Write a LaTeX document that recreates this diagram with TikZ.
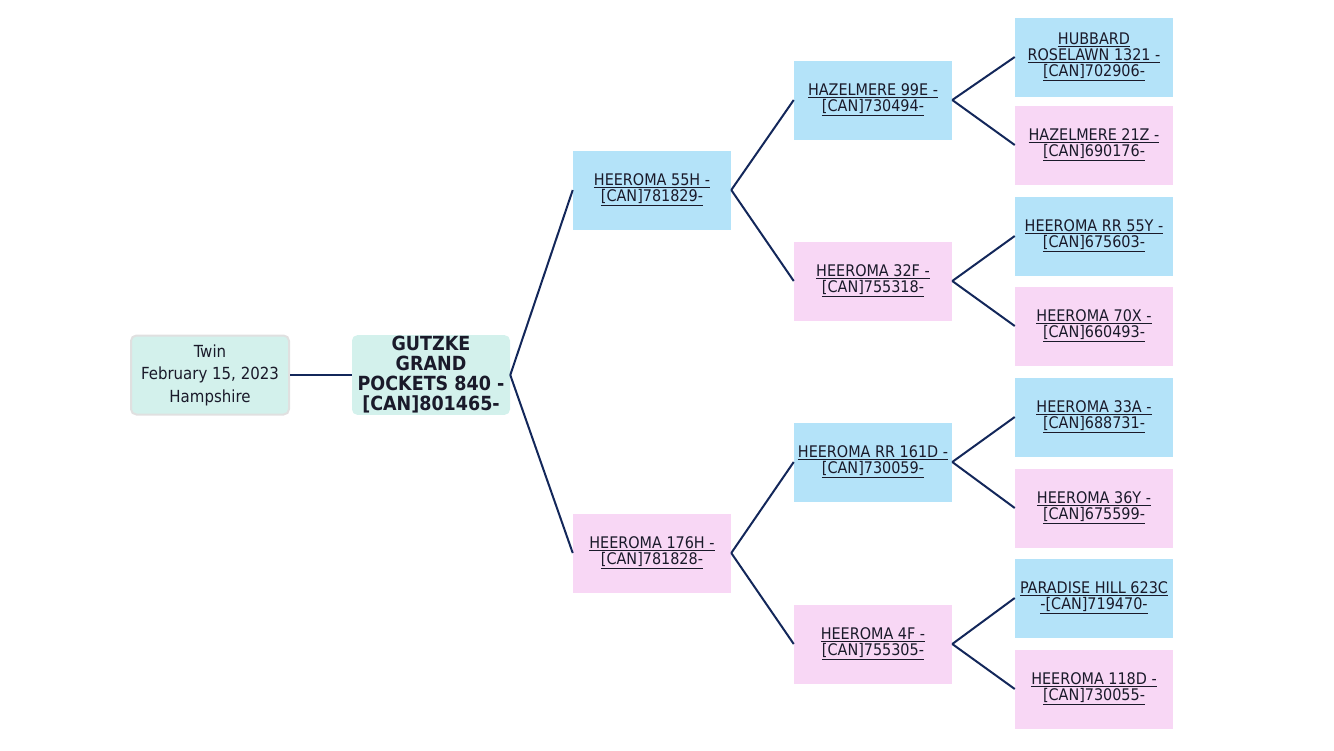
\documentclass[tikz,border=0pt]{standalone}
\usepackage{fontspec}
\setmainfont{DejaVu Sans Condensed}
\usetikzlibrary{positioning}

\definecolor{sireblue}{HTML}{B4E3F9}
\definecolor{dampink}{HTML}{F8D7F5}
\definecolor{rootteal}{HTML}{D3F1EC}
\definecolor{linknavy}{HTML}{13275A}
\definecolor{textdark}{HTML}{1A1A2A}

\newcommand{\lnk}[1]{\underline{#1}}

\tikzset{
  animal/.style={minimum width=118.5pt, minimum height=59.25pt, inner sep=1pt,
    align=center, text=textdark, font=\fontsize{12}{12}\selectfont},
  sire/.style={animal, fill=sireblue},
  dam/.style={animal, fill=dampink},
  rootbox/.style={animal, fill=rootteal, rounded corners=4pt},
  link/.style={draw=linknavy, line width=1.5pt}
}

\begin{document}
\begin{tikzpicture}[x=0.75pt, y=-0.75pt]
\useasboundingbox (0,0) rectangle (1334,750);

% nodes
\node[rootbox, draw=black!12, line width=1.5pt, font=\fontsize{12.5}{16.9}\selectfont] (info) at (210,375) {Twin\\February 15, 2023\\Hampshire};
\node[rootbox, font=\bfseries\fontsize{14.6}{15}\selectfont] (main) at (431,375) {GUTZKE\\GRAND\\POCKETS 840 -\\{[CAN]801465-}};

\node[sire] (s) at (652,190) {\lnk{HEEROMA 55H -}\\\lnk{[CAN]781829-}};
\node[dam] (d) at (652,553) {\lnk{HEEROMA 176H -}\\\lnk{[CAN]781828-}};

\node[sire] (ss) at (873,100) {\lnk{HAZELMERE 99E -}\\\lnk{[CAN]730494-}};
\node[dam] (sd) at (873,281) {\lnk{HEEROMA 32F -}\\\lnk{[CAN]755318-}};
\node[sire] (ds) at (873,462) {\lnk{HEEROMA RR 161D -}\\\lnk{[CAN]730059-}};
\node[dam] (dd) at (873,644) {\lnk{HEEROMA 4F -}\\\lnk{[CAN]755305-}};

\node[sire] (sss) at (1094,57) {\lnk{HUBBARD}\\\lnk{ROSELAWN 1321 -}\\\lnk{[CAN]702906-}};
\node[dam] (ssd) at (1094,145) {\lnk{HAZELMERE 21Z -}\\\lnk{[CAN]690176-}};
\node[sire] (sds) at (1094,236) {\lnk{HEEROMA RR 55Y -}\\\lnk{[CAN]675603-}};
\node[dam] (sdd) at (1094,326) {\lnk{HEEROMA 70X -}\\\lnk{[CAN]660493-}};
\node[sire] (dss) at (1094,417) {\lnk{HEEROMA 33A -}\\\lnk{[CAN]688731-}};
\node[dam] (dsd) at (1094,508) {\lnk{HEEROMA 36Y -}\\\lnk{[CAN]675599-}};
\node[sire] (dds) at (1094,598) {\lnk{PARADISE HILL 623C}\\\lnk{-[CAN]719470-}};
\node[dam] (ddd) at (1094,689) {\lnk{HEEROMA 118D -}\\\lnk{[CAN]730055-}};

% arrows
\draw[link] (info.east) -- (main.west);
\draw[link] (main.east) -- (s.west);
\draw[link] (main.east) -- (d.west);
\draw[link] (s.east) -- (ss.west);
\draw[link] (s.east) -- (sd.west);
\draw[link] (d.east) -- (ds.west);
\draw[link] (d.east) -- (dd.west);
\draw[link] (ss.east) -- (sss.west);
\draw[link] (ss.east) -- (ssd.west);
\draw[link] (sd.east) -- (sds.west);
\draw[link] (sd.east) -- (sdd.west);
\draw[link] (ds.east) -- (dss.west);
\draw[link] (ds.east) -- (dsd.west);
\draw[link] (dd.east) -- (dds.west);
\draw[link] (dd.east) -- (ddd.west);
\end{tikzpicture}
\end{document}
